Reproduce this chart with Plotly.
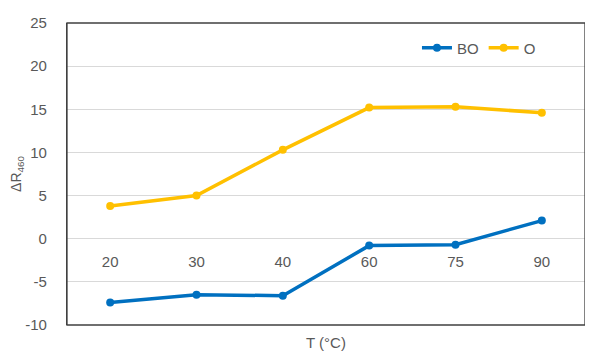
import plotly.graph_objects as go

temps = ["20", "30", "40", "60", "75", "90"]
bo_values = [-7.4, -6.5, -6.6, -0.8, -0.7, 2.1]
o_values = [3.8, 5.0, 10.3, 15.2, 15.3, 14.6]
y_ticks = [-10, -5, 0, 5, 10, 15, 20, 25]

y_min, y_max = -10, 25
grey = "#595959"
frame = "#404040"

fig = go.Figure()
fig.add_trace(
    go.Scatter(
        x=temps, y=bo_values, name="BO", mode="lines+markers",
        line=dict(color="#0070C0", width=3.5), marker=dict(size=8),
    )
)
fig.add_trace(
    go.Scatter(
        x=temps, y=o_values, name="O", mode="lines+markers",
        line=dict(color="#FFC000", width=3.5), marker=dict(size=8),
    )
)

# frame around the plot area and the x title below it
fig.add_shape(
    type="rect", xref="x domain", yref="y domain", x0=0, y0=0, x1=1, y1=1,
    line=dict(color=frame, width=1.3), layer="above",
)
fig.add_annotation(
    text="T (°C)", xref="paper", yref="paper", x=0.5, y=0, yshift=-7,
    yanchor="top", showarrow=False, font=dict(size=15, color=grey),
)

# page body adds 8px on the top/left, so the figure is 8px smaller
fig.update_layout(
    width=585, height=348,
    margin=dict(l=59, r=8, t=15, b=31, autoexpand=False),
    font=dict(family="Liberation Sans", color=grey),
    plot_bgcolor="white", paper_bgcolor="white",
    xaxis=dict(
        type="category", range=[-0.5, 5.5], showgrid=False, showline=False,
        anchor="free", position=(0 - y_min) / (y_max - y_min),
        ticks="outside", ticklen=9, tickcolor="rgba(0,0,0,0)",
        tickfont=dict(size=15, color=grey), automargin=False,
    ),
    yaxis=dict(
        range=[y_min, y_max], tickvals=y_ticks,
        ticktext=[str(v) for v in y_ticks],
        showgrid=True, gridcolor="#D9D9D9", gridwidth=1.3,
        zeroline=True, zerolinecolor="#D9D9D9", zerolinewidth=1.3,
        showline=True, mirror=True, linecolor=frame, linewidth=1.3,
        ticks="outside", ticklen=16, tickcolor="rgba(0,0,0,0)",
        tickfont=dict(size=15, color=grey), automargin=False,
        title=dict(text="ΔR<sub>460</sub>", font=dict(size=14, color=grey), standoff=0),
    ),
    legend=dict(
        orientation="h", x=0.915, xanchor="right", y=0.917, yanchor="middle",
        font=dict(size=15, color=grey), bgcolor="rgba(0,0,0,0)",
        itemwidth=30,
    ),
)

fig.write_html("out.html")
